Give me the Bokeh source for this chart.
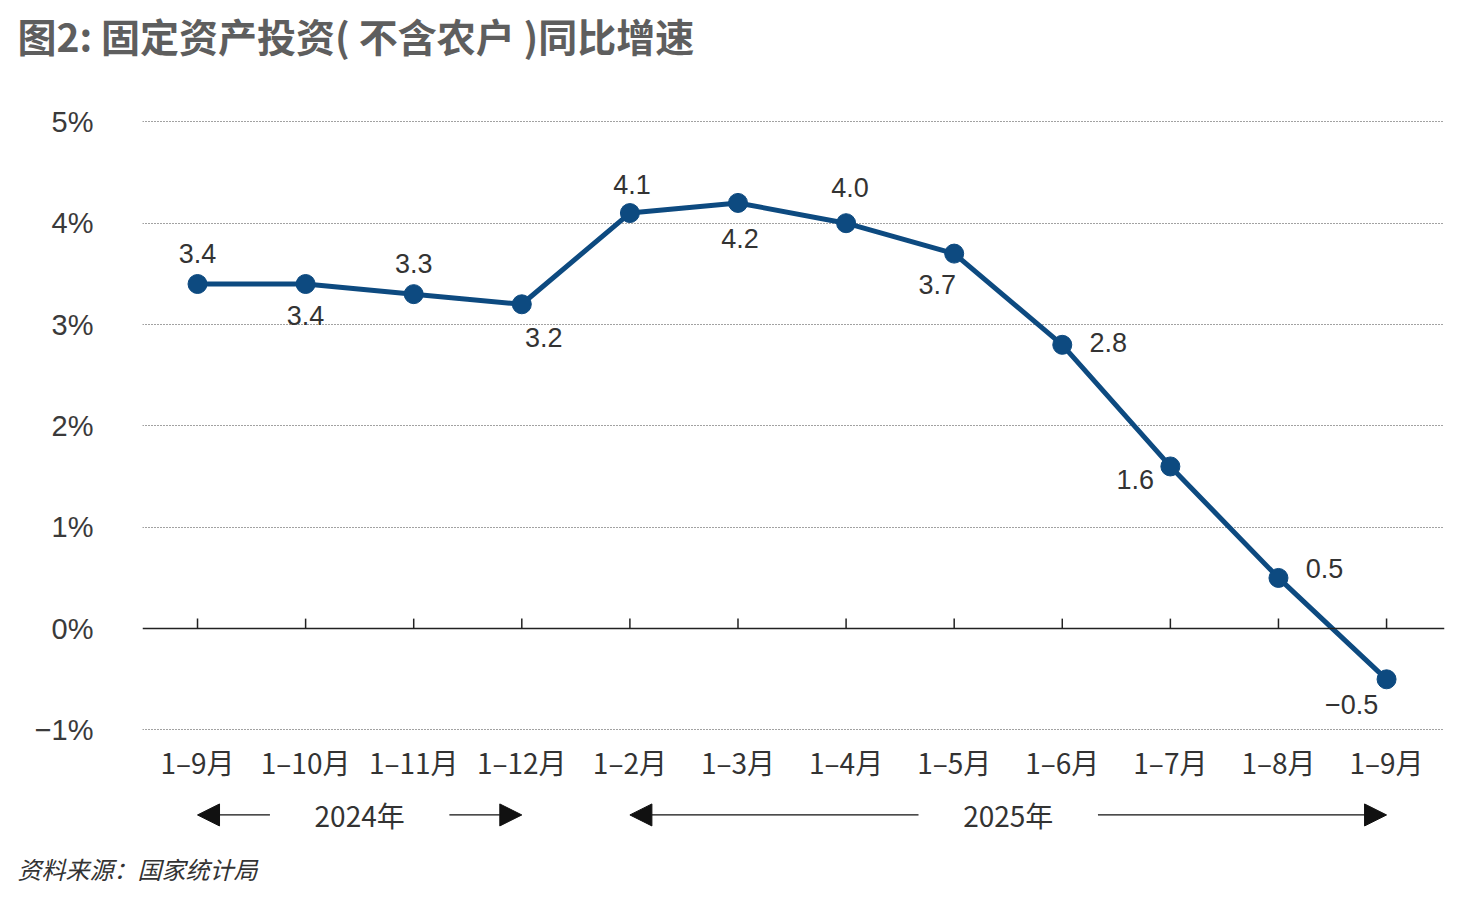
import math
from bokeh.plotting import figure
from bokeh.models import (Range1d, LinearAxis, FixedTicker, Grid, Span, Arrow,
                          NormalHead, ColumnDataSource, Title)
from bokeh.core.properties import value
from bokeh.embed import file_html
from bokeh.resources import INLINE

# ---------------- data ----------------
categories = ["1–9月", "1–10月", "1–11月", "1–12月", "1–2月", "1–3月",
              "1–4月", "1–5月", "1–6月", "1–7月", "1–8月", "1–9月"]
growth = [3.4, 3.4, 3.3, 3.2, 4.1, 4.2, 4.0, 3.7, 2.8, 1.6, 0.5, -0.5]
years = ["2024年", "2025年"]
year_counts = [4, 8]
y_ticks = [-1, 0, 1, 2, 3, 4, 5]
y_tick_labels = ["−1%", "0%", "1%", "2%", "3%", "4%", "5%"]

# label placement (screen px offsets from each point)
label_dx = [0, 0, 0, 22, 2, 2, 4, -17, 46, -35, 46, -35]
label_dy = [-31, 31, -31, 33, -29, 36, -36, 31, -2, 13, -9, 25]

# ---------------- style ----------------
BLUE = "#0d4a80"
TXT = "#333333"
CJK = "Noto Sans CJK SC"
NUM = "Liberation Sans"

idx = list(range(len(categories)))

W, H = 1457, 890
MB_L, MB_R, MB_T, MB_B = 142, 13, 0, 41
Y0, Y1 = -2.120, 5.546
PX_PER_UNIT = 101.4

p = figure(width=W, height=H, output_backend="svg", toolbar_location=None,
           x_range=Range1d(-0.509, 11.536), y_range=Range1d(Y0, Y1),
           x_axis_location=None, y_axis_location=None,
           min_border_left=MB_L, min_border_right=MB_R,
           min_border_top=MB_T, min_border_bottom=MB_B)
p.outline_line_color = None
p.background_fill_color = "white"
p.border_fill_color = "white"
p.xgrid.visible = False
p.ygrid.visible = False

# y axis labels
yaxis = LinearAxis(ticker=FixedTicker(ticks=y_ticks),
                   major_label_overrides={t: l for t, l in zip(y_ticks, y_tick_labels)},
                   axis_line_color=None, major_tick_line_color=None,
                   minor_tick_line_color=None, major_label_standoff=43,
                   major_label_text_font=NUM, major_label_text_font_size="29px",
                   major_label_text_color="#3a3a3a")
p.add_layout(yaxis, "left")

grid = Grid(dimension=1, ticker=FixedTicker(ticks=[t for t in y_ticks if t != 0]),
            grid_line_color="#444444", grid_line_dash="1 2", grid_line_width=1)
p.add_layout(grid)

p.add_layout(Span(location=0, dimension="width", line_color="#222222", line_width=1.5))
p.ray(x=idx, y=[0] * len(idx), length=10, length_units="screen", angle=math.pi / 2,
      line_color="#222222", line_width=1.5)

# series
p.line(x=idx, y=growth, line_color=BLUE, line_width=5)
p.scatter(x=idx, y=growth, size=19, fill_color=BLUE, line_color=BLUE)

lab_src = ColumnDataSource(dict(
    x=idx, y=growth,
    text=[f"{v:.1f}".replace("-", "−") for v in growth],
    dx=label_dx, dy=label_dy))
p.text(x="x", y="y", text="text", x_offset="dx", y_offset="dy", source=lab_src,
       text_align="center", text_baseline="middle", text_font=value(NUM),
       text_font_size="27px", text_color=TXT)

# category labels
p.text(x=idx, y=[y_ticks[0]] * len(idx), text=categories, y_offset=32,
       text_align="center", text_baseline="middle", text_font=value(CJK),
       text_font_size="28px", text_color=TXT)

# year row with arrows
row_y = y_ticks[0] - 85 / PX_PER_UNIT
start = 0
gap = 0.83
centers = []
for yr, n in zip(years, year_counts):
    a, b = start, start + n - 1
    c = (a + b) / 2
    centers.append(c)
    head = dict(size=22, fill_color="#111111", line_color="#111111")
    p.add_layout(Arrow(x_start=c - gap, y_start=row_y, x_end=a, y_end=row_y,
                       line_color="#111111", line_width=1.3, end=NormalHead(**head)))
    p.add_layout(Arrow(x_start=c + gap, y_start=row_y, x_end=b, y_end=row_y,
                       line_color="#111111", line_width=1.3, end=NormalHead(**head)))
    start += n
p.text(x=centers, y=[row_y] * len(centers), text=years, text_align="center",
       text_baseline="middle", text_font=value(CJK), text_font_size="28px",
       text_color=TXT)

# titles
p.title.text = "图2: 固定资产投资( 不含农户 )同比增速"
p.title.align = "left"
p.title.offset = -125
p.title.text_font = CJK
p.title.text_font_size = "39px"
p.title.text_font_style = "bold"
p.title.text_color = "#5e5e5e"
p.title.standoff = 8

p.add_layout(Title(text="资料来源：国家统计局", align="left", offset=-125,
                   text_font=CJK, text_font_size="24px", text_font_style="italic",
                   text_color=TXT), "below")

open("out.html", "w").write(file_html(p, INLINE))
